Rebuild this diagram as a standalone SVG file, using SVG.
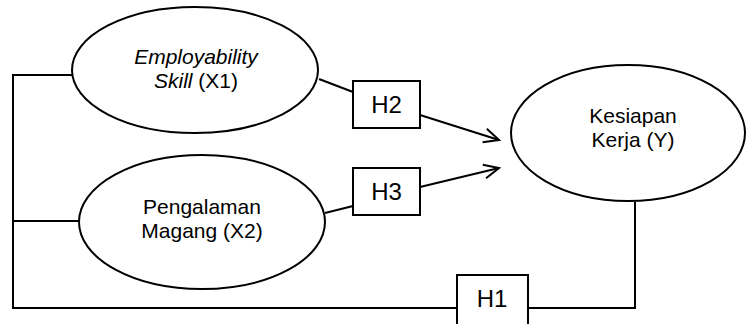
<svg xmlns="http://www.w3.org/2000/svg" width="748" height="324" viewBox="0 0 748 324">
<style>
.s{fill:#fff;stroke:#000;stroke-width:2}
.l{fill:none;stroke:#000;stroke-width:2}
text{font-family:"Liberation Sans",Arial,sans-serif;font-size:21px;fill:#000;text-anchor:middle}
.h{font-size:24px}
</style>
<defs>
<marker id="a" markerUnits="userSpaceOnUse" markerWidth="20" markerHeight="20" refX="16" refY="8" orient="auto">
<path d="M1,1 L16,8 L1,15" fill="none" stroke="#000" stroke-width="2"/>
</marker>
</defs>
<rect width="748" height="324" fill="#fff"/>
<g id="connectors">
<path class="l" d="M72,75 H13 V308 H635 V202"/>
<path class="l" d="M13,221 H79"/>
<path class="l" d="M319,79 L353,92"/>
<path class="l" d="M325,213 L353,206"/>
<path class="l" d="M420,115 L499,140" marker-end="url(#a)"/>
<path class="l" d="M420,187 L499,168" marker-end="url(#a)"/>
</g>
<g id="x1">
<ellipse class="s" cx="195" cy="70" rx="123" ry="63"/>
<text x="196" y="64" font-style="italic">Employability</text>
<text x="196" y="88"><tspan font-style="italic">Skill</tspan> (X1)</text>
</g>
<g id="x2">
<ellipse class="s" cx="202" cy="222" rx="123" ry="67"/>
<text x="202" y="214">Pengalaman</text>
<text x="202" y="238">Magang (X2)</text>
</g>
<g id="y">
<ellipse class="s" cx="628" cy="133" rx="117" ry="68"/>
<text x="633" y="123">Kesiapan</text>
<text x="633" y="147">Kerja (Y)</text>
</g>
<g id="h2">
<rect class="s" x="353" y="81" width="67" height="47"/>
<text class="h" x="386.5" y="113">H2</text>
</g>
<g id="h3">
<rect class="s" x="353" y="168" width="67" height="47"/>
<text class="h" x="386.5" y="200">H3</text>
</g>
<g id="h1">
<rect class="s" x="457" y="275" width="71" height="60"/>
<text class="h" x="492" y="307">H1</text>
</g>
</svg>
